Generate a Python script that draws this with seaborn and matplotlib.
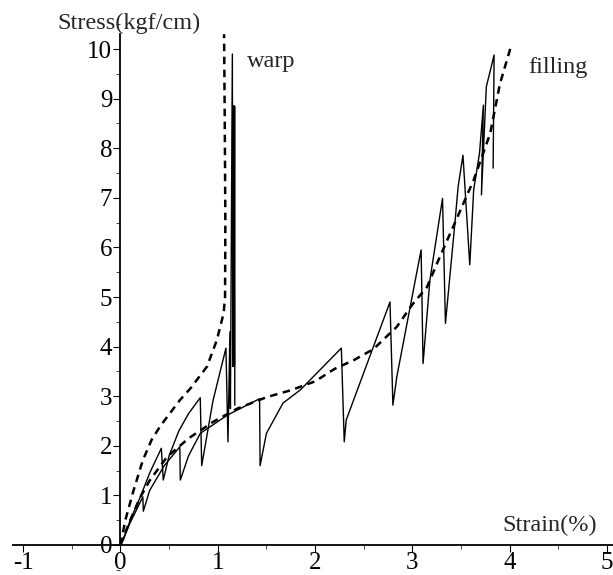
import pandas as pd
import matplotlib
matplotlib.use("Agg")
import matplotlib.pyplot as plt
from matplotlib.ticker import MultipleLocator
import seaborn as sns

# warp, measured (sawtooth)
warp_x = [0, 0.03, 0.1, 0.2, 0.3, 0.42, 0.44, 0.5, 0.6, 0.7, 0.82, 0.835, 0.95, 1.084,
          1.105, 1.125, 1.13, 1.15, 1.155, 1.162, 1.165, 1.168, 1.171, 1.173, 1.175]
warp_y = [0, 0.1, 0.5, 0.95, 1.45, 1.95, 1.31, 1.8, 2.3, 2.65, 2.97, 1.6, 2.9, 3.97,
          2.08, 4.3, 2.75, 9.9, 3.6, 8.85, 3.6, 8.85, 3.6, 8.85, 2.82]

# warp, fitted (dashed)
warp_fit_x = [0, 0.05, 0.13, 0.23, 0.32, 0.41, 0.61, 0.72, 0.89, 0.99, 1.06, 1.075,
              1.078, 1.072, 1.065]
warp_fit_y = [0, 0.5, 1.07, 1.71, 2.12, 2.4, 2.92, 3.16, 3.6, 4.13, 4.67, 5.0,
              6.5, 8.5, 10.3]

# filling, measured (sawtooth)
fill_x = [0, 0.1, 0.23, 0.235, 0.3, 0.45, 0.61, 0.615, 0.7, 0.82, 1.1, 1.43, 1.435,
          1.5, 1.67, 1.85, 1.95, 2.27, 2.30, 2.32, 2.77, 2.80, 2.84, 3.03, 3.09, 3.11,
          3.18, 3.31, 3.34, 3.44, 3.47, 3.52, 3.59, 3.63, 3.69, 3.73, 3.71, 3.76, 3.84, 3.83]
fill_y = [0, 0.45, 0.97, 0.68, 1.1, 1.6, 1.98, 1.31, 1.8, 2.25, 2.62, 2.95, 1.6,
          2.25, 2.86, 3.13, 3.33, 3.97, 2.08, 2.52, 4.9, 2.82, 3.39, 5.34, 5.95, 3.66,
          5.34, 6.99, 4.47, 6.55, 7.22, 7.86, 5.65, 7.16, 7.9, 8.87, 7.06, 9.24, 9.88, 7.6]

# filling, fitted (dashed)
fill_fit_x = [0, 0.1, 0.2, 0.3, 0.48, 0.7, 0.95, 1.2, 1.5, 1.75, 2.0, 2.2, 2.4, 2.6,
              2.84, 3.0, 3.15, 3.28, 3.42, 3.63, 3.8, 3.9, 4.02]
fill_fit_y = [0, 0.5, 0.95, 1.3, 1.78, 2.15, 2.48, 2.75, 2.98, 3.12, 3.3, 3.55, 3.73,
              3.95, 4.4, 4.85, 5.2, 5.8, 6.42, 7.36, 8.3, 9.3, 10.1]

x_ticks = [-1, 0, 1, 2, 3, 4, 5]
y_ticks = list(range(0, 11))

sns.set_style("white")
plt.rcParams['font.family'] = ['Liberation Serif', 'DejaVu Serif']
plt.rcParams['axes.unicode_minus'] = False

fig = plt.figure(figsize=(6.13, 5.75), dpi=100)
ax = fig.add_axes([0, 0, 1, 1])

solid = dict(color='black', lw=1.0, sort=False, estimator=None, ax=ax)
dashed = dict(color='black', lw=1.8, sort=False, estimator=None, ax=ax,
              linestyle=(0, (3, 2.2)))

sns.lineplot(data=pd.DataFrame({'x': warp_x, 'y': warp_y}), x='x', y='y', **solid)
sns.lineplot(data=pd.DataFrame({'x': fill_x, 'y': fill_y}), x='x', y='y', **solid)
sns.lineplot(data=pd.DataFrame({'x': warp_fit_x, 'y': warp_fit_y}), x='x', y='y', **dashed)
sns.lineplot(data=pd.DataFrame({'x': fill_fit_x, 'y': fill_fit_y}), x='x', y='y', **dashed)

ax.set_xlim(-1.238, 5.062)
ax.set_ylim(-0.605, 10.99)
ax.set_xlabel('')
ax.set_ylabel('')
ax.patch.set_alpha(0)

for s in ['top', 'right']:
    ax.spines[s].set_visible(False)
ax.spines['left'].set_position(('data', 0))
ax.spines['bottom'].set_position(('data', 0))
ax.spines['left'].set_bounds(0, 10.3)
ax.spines['bottom'].set_bounds(-1.1, 5.06)
for s in ['left', 'bottom']:
    ax.spines[s].set_linewidth(1.3)
    ax.spines[s].set_color('black')

ax.set_xticks(x_ticks)
ax.set_yticks(y_ticks)
ax.xaxis.set_minor_locator(MultipleLocator(0.5))
ax.yaxis.set_minor_locator(MultipleLocator(0.5))
ax.tick_params(axis='both', which='major', direction='out', length=5, width=0.8,
               labelsize=18, pad=1, colors='black')
ax.tick_params(axis='x', which='major', pad=0)
ax.tick_params(axis='both', which='minor', direction='out', length=3, width=0.6)
ax.tick_params(left=True, bottom=True, which='both')

ax.text(-0.653, 10.40, 'Stress(kgf/cm)', fontsize=17.5, ha='left', va='baseline')
ax.text(3.92, 0.29, 'Strain(%)', fontsize=17.5, ha='left', va='baseline')
ax.text(1.30, 9.64, 'warp', fontsize=17.5, ha='left', va='baseline')
ax.text(4.19, 9.52, 'filling', fontsize=17.5, ha='left', va='baseline')

fig.savefig('out.png', dpi=100)
